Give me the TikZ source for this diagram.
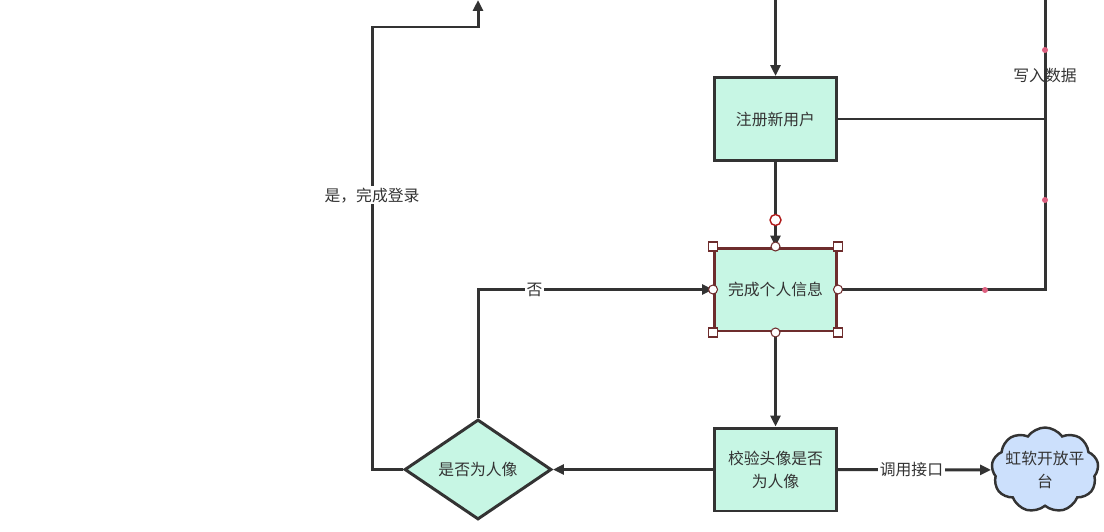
\documentclass[tikz,border=0pt]{standalone}
\usepackage{fontspec}
\setmainfont{Noto Sans CJK SC}
\usetikzlibrary{arrows.meta,shapes.geometric,shapes.symbols}

\definecolor{boxfill}{RGB}{199,246,228}
\definecolor{cloudfill}{RGB}{204,224,252}
\definecolor{linegray}{RGB}{51,51,51}
\definecolor{selred}{RGB}{110,45,45}
\definecolor{dotpink}{RGB}{221,96,128}

\tikzstyle{process} = [rectangle, minimum width=2.44cm, minimum height=1.66cm, text centered, draw=linegray, line width=1.7pt, fill=boxfill, align=center, text=linegray, font=\fontsize{9}{13}\selectfont]
\tikzstyle{decision} = [diamond, minimum width=2.94cm, minimum height=2cm, inner sep=0pt, draw=linegray, line width=1.7pt, fill=boxfill, text=linegray, font=\fontsize{9}{13}\selectfont]
\tikzstyle{platform} = [cloud, cloud puffs=9, cloud puff arc=110, minimum width=2.14cm, minimum height=1.7cm, inner sep=0pt, draw=linegray, line width=1.4pt, fill=cloudfill]
\tikzstyle{arrow} = [line width=1.7pt, draw=linegray, -{Triangle[length=0.22cm,width=0.2cm]}]
\tikzstyle{line} = [line width=1.7pt, draw=linegray]
\tikzstyle{tag} = [fill=white, inner sep=1pt, text=linegray, font=\fontsize{9}{13}\selectfont]
\tikzstyle{handle} = [draw=selred, fill=white, line width=0.6pt]

\begin{document}
\begin{tikzpicture}[x=0.02cm, y=-0.02cm]

	\useasboundingbox (0,0) rectangle (1104,531);

	% boxes
	\node (register) [process] at (775.5,119) {注册新用户};
	\node (info) [process, draw=selred] at (775.5,289.5) {完成个人信息};
	\node (check) [process] at (775.5,469.5) {校验头像是否\\为人像};
	\node (isface) [decision] at (478,469.5) {是否为人像};
	\node (arcsoft) [platform, label={[align=center, text=linegray, font=\fontsize{9}{13}\selectfont]center:虹软开放平\\台}] at (1045,470) {};

	% free ends at the top edge
	\coordinate (entry) at (775.5,0);
	\coordinate (store) at (1045,0);
	\coordinate (login) at (478,0);

	% connectors
	\draw [arrow] (entry) -- (register);
	\draw [arrow] (register) -- (info);
	\draw [arrow] (info) -- (check);
	\draw [arrow] (check) -- (isface);
	\draw [arrow] (check) -- node[tag, pos=0.48] {调用接口} (arcsoft);
	\draw [arrow] (isface.north) |- node[tag, pos=0.62] {否} (info.west);
	\draw [arrow] (isface.west) -| node[tag, pos=0.81] {是，完成登录} (372,27) -| (login);
	\draw [line] (info.east) -| node[text=linegray, pos=0.869, font=\fontsize{9}{13}\selectfont] {写入数据} (store);
	\draw [line] (register.east) -- (register.east -| store);

	% waypoint dots
	\fill [dotpink] (1045,50) circle (3);
	\fill [dotpink] (1045,200) circle (3);
	\fill [dotpink] (985,290) circle (3);

	% selection handles
	\draw [handle, draw=red!45!selred, line width=0.8pt] (775.5,220) circle (5.5);
	\foreach \a in {north,south,east,west}
		\draw [handle] (info.\a) circle (4.5);
	\foreach \a in {north east,north west,south east,south west}
		\draw [handle] (info.\a) ++(-4.5,-4.5) rectangle ++(9,9);

\end{tikzpicture}
\end{document}
